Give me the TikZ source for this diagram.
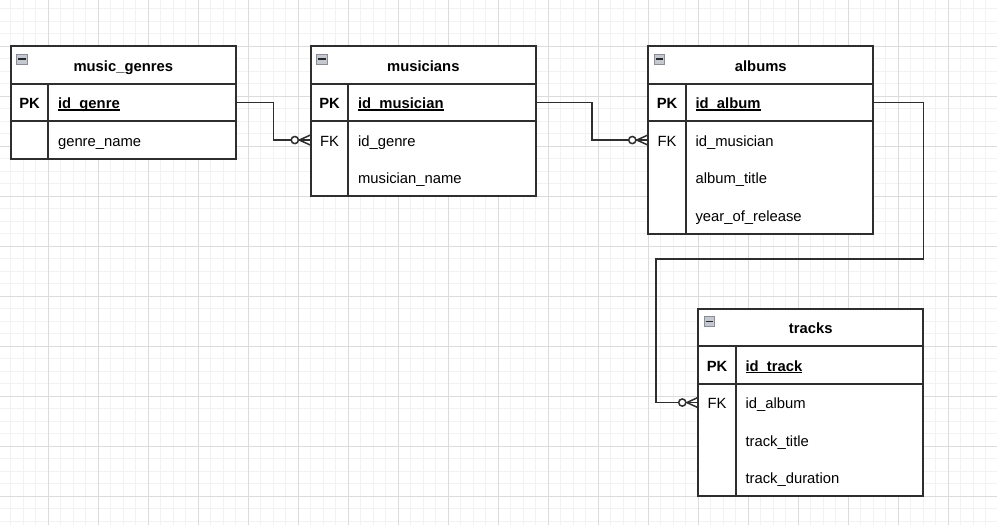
\documentclass[tikz,border=0pt]{standalone}
\usepackage{fontspec}
\setmainfont{Liberation Sans}
\usetikzlibrary{positioning}
\definecolor{gridminor}{HTML}{F2F2F2}
\definecolor{gridmajor}{HTML}{DCDCDC}
\definecolor{linegray}{HTML}{2E2E2E}
\definecolor{foldfill}{HTML}{C4C8D0}
\definecolor{folddraw}{HTML}{8C8C96}
\newsavebox\keybox
\newcommand{\keyname}[1]{\sbox\keybox{#1}\rlap{\rule[-1.8pt]{\wd\keybox}{1.4pt}}\usebox\keybox}
\begin{document}
\begin{tikzpicture}[x=12.5pt, y=-12.5pt,
    every node/.style={font=\fontsize{14.8pt}{17pt}\selectfont, text=black, outer sep=0pt},
    tabletitle/.style={draw=linegray, line width=1.7pt, fill=white,
        minimum width=225pt, minimum height=37.5pt, inner sep=0pt,
        font=\fontsize{14.8pt}{17pt}\selectfont\bfseries, text height=14.6pt, text depth=1.8pt},
    keycell/.style={fill=white, minimum width=37.5pt, minimum height=37.5pt,
        inner sep=0pt, text height=14.6pt, text depth=1.8pt},
    fieldcell/.style={fill=white, text width=168pt, inner xsep=9.75pt, inner ysep=0pt,
        minimum height=37.5pt, align=left, text height=14.6pt, text depth=1.8pt},
    tableline/.style={draw=linegray, line width=1.7pt},
    relation/.style={draw=linegray, line width=1.5pt},
    foldicon/.style={draw=folddraw, fill=foldfill, line width=0.7pt,
        minimum width=10.5pt, minimum height=10pt, inner sep=0pt,
        path picture={\draw[line width=1.4pt, black!85]
          ([xshift=1.5pt]path picture bounding box.west) -- ([xshift=-1.5pt]path picture bounding box.east);}},
  ]
  % canvas and grid
  \fill[white] (-3.864,-3.704) rectangle (75.896,38.296);
  \useasboundingbox (-3.864,-3.704) rectangle (75.896,38.296);
  \foreach \x in {-3,...,75} \draw[gridminor, line width=1pt] (\x,-3.704) -- (\x,38.296);
  \foreach \y in {-3,...,38} \draw[gridminor, line width=1pt] (-3.864,\y) -- (75.896,\y);
  \foreach \x in {0,4,...,72} \draw[gridmajor, line width=1pt] (\x,-3.704) -- (\x,38.296);
  \foreach \y in {0,4,...,36} \draw[gridmajor, line width=1pt] (-3.864,\y) -- (75.896,\y);

  % music_genres
  \node[tabletitle] (genres) at (6,1.5) {music\_genres};
  \node[keycell, below=0pt of genres.south west, anchor=north west] (genresK1) {\textbf{PK}};
  \node[fieldcell, right=0pt of genresK1] (genresF1) {\keyname{\textbf{id\_genre}}};
  \node[keycell, below=0pt of genresK1] (genresK2) {};
  \node[fieldcell, right=0pt of genresK2] (genresF2) {genre\_name};
  \draw[tableline] (genres.north west) rectangle (genresF2.south east)
    (genresK1.north west) -- (genresF1.north east)
    (genresK1.south west) -- (genresF1.south east)
    (genresK1.north east) -- (genresK2.south east);
  \node[foldicon, below right=7.7pt and 6pt of genres.north west] (genresFold) {};

  % musicians
  \node[tabletitle] (musicians) at (30,1.5) {musicians};
  \node[keycell, below=0pt of musicians.south west, anchor=north west] (musiciansK1) {\textbf{PK}};
  \node[fieldcell, right=0pt of musiciansK1] (musiciansF1) {\keyname{\textbf{id\_musician}}};
  \node[keycell, below=0pt of musiciansK1] (musiciansK2) {FK};
  \node[fieldcell, right=0pt of musiciansK2] (musiciansF2) {id\_genre};
  \node[keycell, below=0pt of musiciansK2] (musiciansK3) {};
  \node[fieldcell, right=0pt of musiciansK3] (musiciansF3) {musician\_name};
  \draw[tableline] (musicians.north west) rectangle (musiciansF3.south east)
    (musiciansK1.north west) -- (musiciansF1.north east)
    (musiciansK1.south west) -- (musiciansF1.south east)
    (musiciansK1.north east) -- (musiciansK3.south east);
  \node[foldicon, below right=7.7pt and 6pt of musicians.north west] (musiciansFold) {};

  % albums
  \node[tabletitle] (albums) at (57,1.5) {albums};
  \node[keycell, below=0pt of albums.south west, anchor=north west] (albumsK1) {\textbf{PK}};
  \node[fieldcell, right=0pt of albumsK1] (albumsF1) {\keyname{\textbf{id\_album}}};
  \node[keycell, below=0pt of albumsK1] (albumsK2) {FK};
  \node[fieldcell, right=0pt of albumsK2] (albumsF2) {id\_musician};
  \node[keycell, below=0pt of albumsK2] (albumsK3) {};
  \node[fieldcell, right=0pt of albumsK3] (albumsF3) {album\_title};
  \node[keycell, below=0pt of albumsK3] (albumsK4) {};
  \node[fieldcell, right=0pt of albumsK4] (albumsF4) {year\_of\_release};
  \draw[tableline] (albums.north west) rectangle (albumsF4.south east)
    (albumsK1.north west) -- (albumsF1.north east)
    (albumsK1.south west) -- (albumsF1.south east)
    (albumsK1.north east) -- (albumsK4.south east);
  \node[foldicon, below right=7.7pt and 6pt of albums.north west] (albumsFold) {};

  % tracks
  \node[tabletitle] (tracks) at (61,22.5) {tracks};
  \node[keycell, below=0pt of tracks.south west, anchor=north west] (tracksK1) {\textbf{PK}};
  \node[fieldcell, right=0pt of tracksK1] (tracksF1) {\keyname{\textbf{id\_track}}};
  \node[keycell, below=0pt of tracksK1] (tracksK2) {FK};
  \node[fieldcell, right=0pt of tracksK2] (tracksF2) {id\_album};
  \node[keycell, below=0pt of tracksK2] (tracksK3) {};
  \node[fieldcell, right=0pt of tracksK3] (tracksF3) {track\_title};
  \node[keycell, below=0pt of tracksK3] (tracksK4) {};
  \node[fieldcell, right=0pt of tracksK4] (tracksF4) {track\_duration};
  \draw[tableline] (tracks.north west) rectangle (tracksF4.south east)
    (tracksK1.north west) -- (tracksF1.north east)
    (tracksK1.south west) -- (tracksF1.south east)
    (tracksK1.north east) -- (tracksK4.south east);
  \node[foldicon, below right=7.7pt and 6pt of tracks.north west] (tracksFold) {};

  % relations
  \draw[relation] (genresF1.east) -- ++(3,0) |- (musiciansK2.west);
  \draw[relation] (musiciansF1.east) -- ++(4.5,0) |- (albumsK2.west);
  \draw[relation] (albumsF1.east) -| (70,17) -| ([xshift=-42.5pt]tracksK2.west) -- (tracksK2.west);
  \foreach \t in {musiciansK2, albumsK2, tracksK2} {
    \draw[relation] ([xshift=-11.5pt]\t.west) -- ([yshift=5.2pt]\t.west)
      ([xshift=-11.5pt]\t.west) -- ([yshift=-5.2pt]\t.west);
    \draw[relation, fill=white] ([xshift=-16pt]\t.west) circle (3.6pt);
  }
\end{tikzpicture}
\end{document}
